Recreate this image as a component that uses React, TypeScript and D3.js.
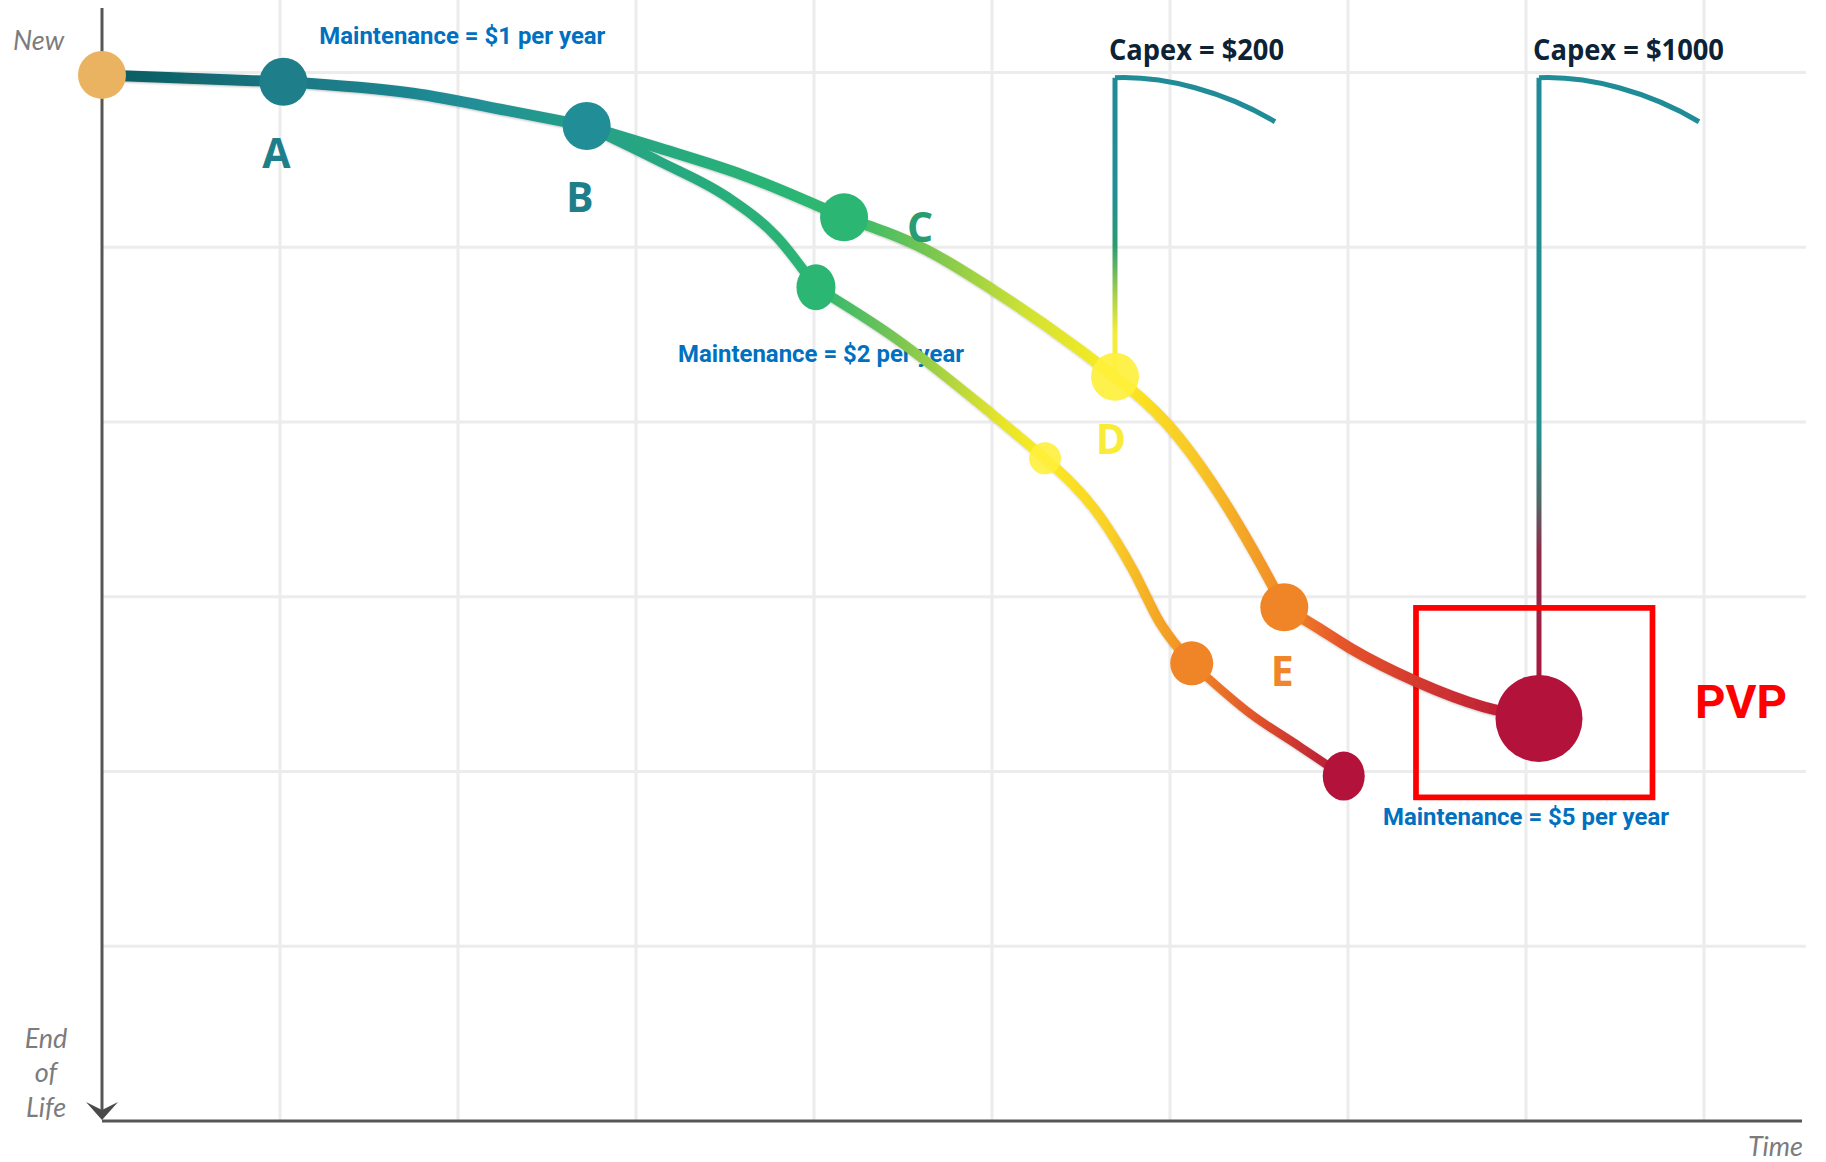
import * as d3 from 'd3';

// grid positions (time units / condition-loss units)
const timeGrid = [1, 2, 3, 4, 5, 6, 7, 8, 9];
const levelGrid = [0, 1, 2, 3, 4, 5];

// upper branch: planned maintenance + capex path
const highTime = [0, 1.019, 1.747, 2.309, 2.723, 3.135, 3.601, 4.169, 4.633, 5.007, 5.494, 5.691, 5.981, 6.262, 6.466, 6.642, 6.824, 7.011, 7.386, 7.76, 8.073];
const highLevel = [0.014, 0.053, 0.119, 0.224, 0.306, 0.434, 0.587, 0.829, 1.016, 1.245, 1.588, 1.741, 2.007, 2.389, 2.732, 3.06, 3.173, 3.293, 3.486, 3.629, 3.696];

// lower branch: run-to-failure path
const lowTime = [2.723, 3.135, 3.51, 3.79, 4.011, 4.445, 5.007, 5.298, 5.607, 5.792, 5.944, 6.122, 6.449, 6.73, 6.976];
const lowLevel = [0.306, 0.51, 0.711, 0.94, 1.229, 1.512, 1.96, 2.208, 2.542, 2.847, 3.15, 3.381, 3.667, 3.858, 4.026];

// stage markers
const stageKeys = ['new', 'A', 'B', 'C', 'B2', 'D', 'D2', 'E', 'E2', 'EOL', 'PVP'];
const stageTime = [0, 1.019, 2.723, 4.169, 4.011, 5.691, 5.298, 6.642, 6.122, 6.976, 8.073];
const stageLevel = [0.014, 0.053, 0.306, 0.829, 1.229, 1.741, 2.208, 3.06, 3.381, 4.026, 3.696];
const stageLabels = ['', 'A', 'B', 'C', '', 'D', '', 'E', '', '', 'PVP'];

const maintLabels = ['Maintenance = $1 per year', 'Maintenance = $2 per year', 'Maintenance = $5 per year'];
const capexLabels = ['Capex = $200', 'Capex = $1000'];
const capexStages = ['D', 'PVP'];

const W = 1826;
const H = 1162;

const x = d3.scaleLinear().domain([0, 9.5]).range([102, 102 + 9.5 * 178]);
const y = d3.scaleLinear().domain([0, 6]).range([72.5, 1121]);

const curve = d3.line<[number, number]>()
  .x(d => x(d[0]))
  .y(d => y(d[1]))
  .curve(d3.curveMonotoneX);

// split a knot list into pieces that start and end on stage dots
const splitAtStages = (pts: [number, number][]) => {
  const segs: [number, number][][] = [];
  let cur: [number, number][] = [];
  pts.forEach((p, i) => {
    cur.push(p);
    const onStage = stageTime.some((t, j) => t === p[0] && stageLevel[j] === p[1]);
    if (onStage && i > 0) {
      segs.push(cur);
      cur = [p];
    }
  });
  if (cur.length > 1) segs.push(cur);
  return segs;
};

const dotStyle: Record<string, { rx: number; ry: number; fill: string; op?: number }> = {
  new: { rx: 24, ry: 24, fill: '#EAB362' },
  A: { rx: 24, ry: 24, fill: '#1E7F8A' },
  B: { rx: 24, ry: 24, fill: '#218E97' },
  C: { rx: 24, ry: 24, fill: '#2BB673' },
  B2: { rx: 19.5, ry: 23, fill: '#2BB673' },
  D: { rx: 24, ry: 24, fill: '#FEF03C', op: 0.92 },
  D2: { rx: 16, ry: 16, fill: '#FFF03C', op: 0.9 },
  E: { rx: 24, ry: 24, fill: '#F08527' },
  E2: { rx: 21.5, ry: 22, fill: '#F08527' },
  EOL: { rx: 21, ry: 24.5, fill: '#B3133A' },
  PVP: { rx: 43.5, ry: 43.5, fill: '#B3133A' },
};

const labelStyle: Record<string, { dx: number; dy: number; fill: string }> = {
  A: { dx: -7, dy: 86, fill: '#1E7F8A' },
  B: { dx: -7, dy: 86, fill: '#1E7F8A' },
  C: { dx: 76, dy: 25, fill: '#2A9C70' },
  D: { dx: -4, dy: 77, fill: '#F9EC38' },
  E: { dx: -2, dy: 79, fill: '#F0852A' },
};

const highStops: [number, string][] = [
  [0, '#0B5A5E'], [0.126, '#197683'], [0.256, '#218E97'], [0.337, '#25A087'],
  [0.457, '#2AB376'], [0.516, '#2FB86F'], [0.576, '#78C651'], [0.645, '#D2E232'],
  [0.705, '#FBEC22'], [0.764, '#F8C528'], [0.822, '#F08A27'], [0.861, '#E6562A'],
  [0.917, '#D3392F'], [1, '#B3153A'],
];
const lowStops: [number, string][] = [
  [0, '#25A087'], [0.302, '#2BB673'], [0.413, '#7AC652'], [0.545, '#E5E42B'],
  [0.605, '#FBEB22'], [0.691, '#F9D026'], [0.799, '#F18A27'], [0.889, '#E0502A'],
  [1, '#B3153A'],
];

const App = () => {
  const high = highTime.map((t, i) => [t, highLevel[i]] as [number, number]);
  const low = lowTime.map((t, i) => [t, lowLevel[i]] as [number, number]);
  const highSegs = splitAtStages(high);
  const lowSegs = splitAtStages(low);
  const stages = stageKeys.map((k, i) => ({ key: k, t: stageTime[i], l: stageLevel[i], label: stageLabels[i] }));
  const byKey = (k: string) => stages.find(s => s.key === k)!;

  const pvp = byKey('PVP');
  const px = x(pvp.t);
  const py = y(pvp.l);
  const capexTop = y(0.03);

  // maintenance notes anchored to stage points
  const maintPos = [
    { cx: x(byKey('A').t) + 179, by: 43.5, w: 286 },
    { cx: x(byKey('B2').t) + 5, by: 361.5, w: 286 },
    { cx: px - 13, by: 825, w: 286 },
  ];

  const capexStops = [
    [[0, '#1F8B97'], [0.4, '#218F93'], [0.56, '#2A9C70'], [0.73, '#A9D24A'], [0.85, '#F3EC36'], [1, '#FBEF3B']],
    [[0, '#1F8B97'], [0.55, '#22918F'], [0.66, '#4F6A67'], [0.74, '#8E2C4A'], [1, '#B3133A']],
  ];

  return (
    <div style={{ position: 'absolute', left: 0, top: 0 }}>
      <svg width={W} height={H} style={{ display: 'block', background: '#fff' }}>
        <defs>
          <linearGradient id="gHigh" gradientUnits="userSpaceOnUse" x1={x(highTime[0])} x2={x(highTime[highTime.length - 1])} y1={0} y2={0}>
            {highStops.map(([o, c], i) => <stop key={i} offset={o} stopColor={c} />)}
          </linearGradient>
          <linearGradient id="gLow" gradientUnits="userSpaceOnUse" x1={x(lowTime[0])} x2={x(lowTime[lowTime.length - 1])} y1={0} y2={0}>
            {lowStops.map(([o, c], i) => <stop key={i} offset={o} stopColor={c} />)}
          </linearGradient>
          {capexStages.map((k, i) => {
            const s = byKey(k);
            return (
              <linearGradient key={k} id={`gCapex${i}`} gradientUnits="userSpaceOnUse" x1={0} x2={0} y1={capexTop} y2={y(s.l)}>
                {capexStops[i].map(([o, c], j) => <stop key={j} offset={o as number} stopColor={c as string} />)}
              </linearGradient>
            );
          })}
          <filter id="soft" x="-5%" y="-5%" width="110%" height="110%">
            <feGaussianBlur stdDeviation="0.6" />
          </filter>
          <filter id="edge" x="-5%" y="-5%" width="110%" height="110%">
            <feDropShadow dx="0.5" dy="1" stdDeviation="0.8" floodColor="#000" floodOpacity="0.25" />
          </filter>
        </defs>

        {/* grid */}
        <g stroke="#ECECEC" strokeWidth={3} filter="url(#soft)">
          {timeGrid.map(t => (
            <line key={`v${t}`} x1={x(t)} x2={x(t)} y1={0} y2={y(6)} />
          ))}
          {levelGrid.map(l => (
            <line key={`h${l}`} x1={x(0)} x2={1806} y1={y(l)} y2={y(l)} />
          ))}
        </g>

        {/* axes */}
        <g stroke="#565656" strokeWidth={3} fill="none">
          <line x1={x(0)} x2={x(0)} y1={8} y2={1110} />
          <line x1={x(0)} x2={1802} y1={y(6)} y2={y(6)} />
        </g>
        <path
          d={`M${x(0)},${y(6) - 1} L${x(0) - 16},${y(6) - 19} L${x(0)},${y(6) - 11} L${x(0) + 16},${y(6) - 19} Z`}
          fill="#4A4A4A"
        />
        <g fontFamily="Lato, 'Open Sans', sans-serif" fontStyle="italic" fontSize={27} fill="#7C7C7C">
          <text x={13} y={50}>New</text>
          <text x={46} y={1048} textAnchor="middle">End</text>
          <text x={46} y={1082} textAnchor="middle">of</text>
          <text x={46} y={1117} textAnchor="middle">Life</text>
          <text x={1803} y={1156} textAnchor="end">Time</text>
        </g>

        {/* maintenance notes (drawn under the paths) */}
        <g fontFamily="Roboto, sans-serif" fontWeight={700} fontSize={23} fill="#0070C0">
          {maintLabels.map((m, i) => (
            <text key={m} x={maintPos[i].cx - maintPos[i].w / 2} y={maintPos[i].by}
              textLength={maintPos[i].w} lengthAdjust="spacingAndGlyphs">{m}</text>
          ))}
        </g>

        {/* capex brackets */}
        {capexStages.map((k, i) => {
          const s = byKey(k);
          const sx = x(s.t);
          return (
            <g key={k}>
              <line x1={sx} x2={sx} y1={capexTop} y2={y(s.l)} stroke={`url(#gCapex${i})`} strokeWidth={5} />
              <path
                d={`M${sx},${capexTop} C${sx + 50},${capexTop - 2} ${sx + 110},${capexTop + 14} ${sx + 160},${capexTop + 44}`}
                fill="none" stroke="#208C98" strokeWidth={5}
              />
              <text x={sx - 6} y={59.5} fontFamily="'Open Sans', sans-serif" fontWeight={700} fontSize={28}
                fill="#0B2237" textLength={i === 0 ? 175 : 191} lengthAdjust="spacingAndGlyphs">
                {capexLabels[i]}
              </text>
            </g>
          );
        })}

        {/* PVP box */}
        <rect x={px - 123} y={py - 110.5} width={236.5} height={189.5} fill="none" stroke="#FF0000" strokeWidth={5.7} />

        {/* condition paths, one smooth piece between neighbouring dots */}
        <g fill="none" strokeLinecap="round" filter="url(#edge)">
          {lowSegs.map((seg, i) => (
            <path key={`l${i}`} d={curve(seg) ?? ''} stroke="url(#gLow)" strokeWidth={i === lowSegs.length - 1 ? 8.5 : 10} />
          ))}
          {highSegs.map((seg, i) => (
            <path key={`h${i}`} d={curve(seg) ?? ''} stroke="url(#gHigh)" strokeWidth={11} />
          ))}
        </g>

        {/* stage dots */}
        {stages.map(s => {
          const st = dotStyle[s.key];
          return (
            <ellipse key={s.key} cx={x(s.t)} cy={y(s.l)} rx={st.rx} ry={st.ry} fill={st.fill} opacity={st.op ?? 1} />
          );
        })}

        {/* stage letters */}
        <g fontFamily="'Open Sans', sans-serif" fontWeight={700} fontSize={41} textAnchor="middle">
          {stages.filter(s => labelStyle[s.key]).map(s => {
            const ls = labelStyle[s.key];
            return (
              <text key={s.key} x={x(s.t) + ls.dx} y={y(s.l) + ls.dy} fill={ls.fill}>{s.label}</text>
            );
          })}
        </g>
        <text x={px + 156} y={py} fontFamily="Roboto, sans-serif" fontWeight={700} fontSize={46} fill="#FF0000"
          textLength={92} lengthAdjust="spacingAndGlyphs">
          {pvp.label}
        </text>
      </svg>
    </div>
  );
};

export default App;
